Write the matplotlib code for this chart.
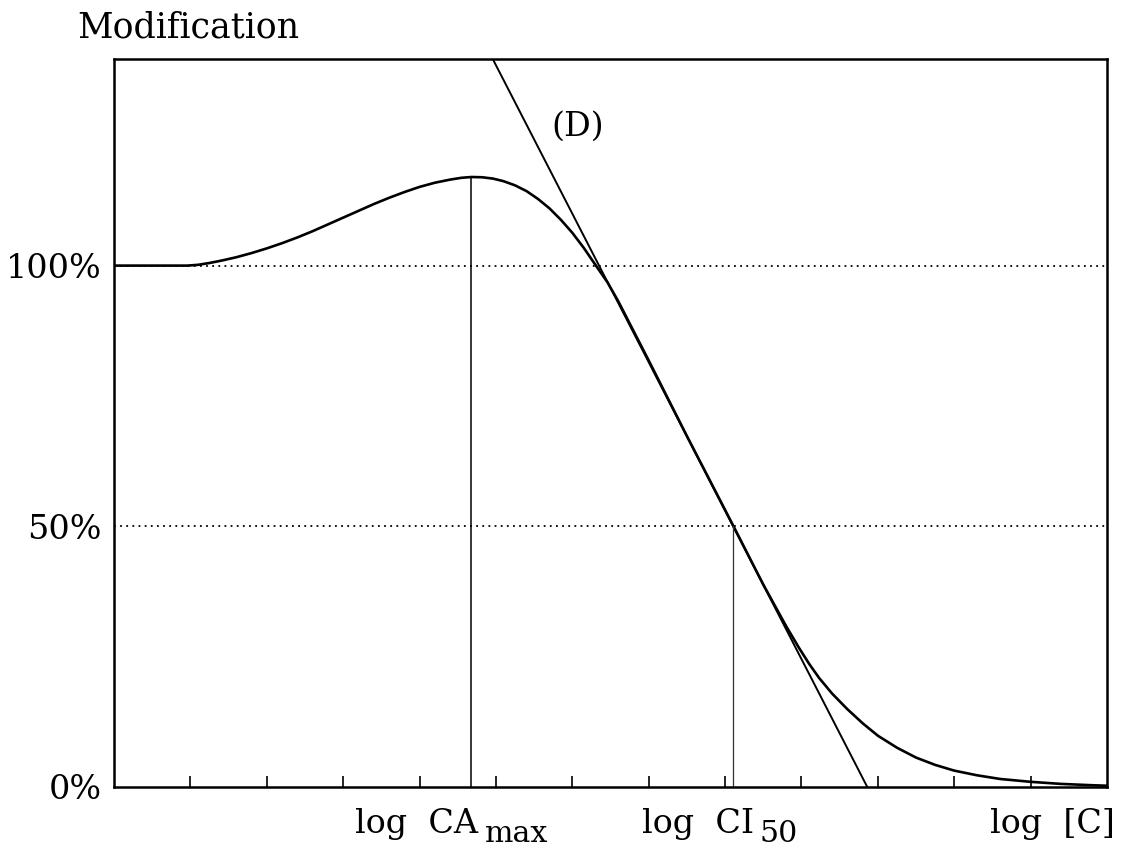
import matplotlib
matplotlib.use("Agg")
import matplotlib.pyplot as plt
from matplotlib.transforms import blended_transform_factory

# response curve (x in tick units, y in %)
curve_x = [0.0, 0.5, 0.96, 1.1, 1.25, 1.42, 1.6, 1.8, 2.0, 2.2, 2.4, 2.6, 2.8, 3.0, 3.2,
           3.4, 3.6, 3.8, 4.0, 4.2, 4.4, 4.55, 4.68, 4.82, 4.96, 5.1, 5.25, 5.4, 5.55,
           5.7, 5.85, 6.0, 6.15, 6.3, 6.46, 6.6, 6.8, 7.0, 7.5, 8.11, 8.5, 8.8, 8.97,
           9.1, 9.23, 9.4, 9.6, 9.8, 10.0, 10.25, 10.5, 10.75, 11.0, 11.3, 11.6, 12.0,
           12.4, 12.8, 13.0]
curve_y = [100.0, 100.0, 100.0, 100.15, 100.5, 101.0, 101.6, 102.4, 103.3, 104.3, 105.4,
           106.6, 107.9, 109.2, 110.5, 111.8, 113.0, 114.1, 115.1, 115.9, 116.5, 116.85,
           117.0, 116.95, 116.7, 116.2, 115.4, 114.3, 112.8, 111.0, 108.8, 106.3, 103.4,
           100.2, 96.8, 93.2, 87.5, 81.8, 67.3, 50.0, 38.8, 30.8, 26.6, 23.6, 20.9, 17.9,
           14.9, 12.2, 9.8, 7.5, 5.6, 4.2, 3.1, 2.2, 1.5, 0.95, 0.55, 0.3, 0.2]

# tangent line (D)
d_x = [4.96, 9.86]
d_y = [139.6, 0.0]

ca_max_x, ca_max_y = 4.68, 117.0
ci50_x, ci50_y = 8.11, 50.0

ref_levels = [100, 50]
ytick_vals = [0, 50, 100]
ytick_labels = ["0%", "50%", "100%"]
xtick_vals = list(range(1, 13))

SERIF = "DejaVu Serif"
FS = 24

fig = plt.figure(figsize=(11.24, 8.46), dpi=100)
ax = fig.add_axes([0.1014, 0.070, 0.8835, 0.860])
ax.set_xlim(0, 13)
ax.set_ylim(0, 139.6)

for lvl in ref_levels:
    ax.plot([0, 13], [lvl, lvl], color="black", lw=1.3, linestyle=(0, (1, 2.4)))

ax.plot(curve_x, curve_y, color="black", lw=1.9, solid_joinstyle="round")
ax.plot(d_x, d_y, color="black", lw=1.4)
ax.plot([ca_max_x, ca_max_x], [0, ca_max_y], color="black", lw=1.1)
ax.plot([ci50_x, ci50_x], [0, ci50_y], color="#333333", lw=0.9)

for s in ax.spines.values():
    s.set_linewidth(1.8)

ax.set_xticks(xtick_vals)
ax.set_xticklabels([])
ax.tick_params(axis="x", direction="in", length=8, width=1.2)
ax.set_yticks(ytick_vals)
ax.set_yticklabels(ytick_labels, fontfamily=SERIF, fontsize=FS)
ax.tick_params(axis="y", length=0, pad=9)

ax.text(6.07, 126.6, "(D)", fontfamily=SERIF, fontsize=FS, ha="center", va="center")

fig.text(77 / 1124, 1 - 38 / 846, "Modification", fontfamily=SERIF, fontsize=FS + 1,
         ha="left", va="baseline")

# x-axis labels: data x, figure y
tr = blended_transform_factory(ax.transData, fig.transFigure)
base = 1 - 833 / 846
sub = 1 - 842 / 846
ax.text(3.16, base, "log  CA", transform=tr, fontfamily=SERIF, fontsize=FS,
        ha="left", va="baseline", clip_on=False)
ax.text(4.86, sub, "max", transform=tr, fontfamily=SERIF, fontsize=FS * 0.9,
        ha="left", va="baseline", clip_on=False)
ax.text(6.91, base, "log  CI", transform=tr, fontfamily=SERIF, fontsize=FS,
        ha="left", va="baseline", clip_on=False)
ax.text(8.45, sub, "50", transform=tr, fontfamily=SERIF, fontsize=FS * 0.9,
        ha="left", va="baseline", clip_on=False)
ax.text(13.1, base, "log  [C]", transform=tr, fontfamily=SERIF, fontsize=FS,
        ha="right", va="baseline", clip_on=False)

fig.savefig("out.png", dpi=100)
